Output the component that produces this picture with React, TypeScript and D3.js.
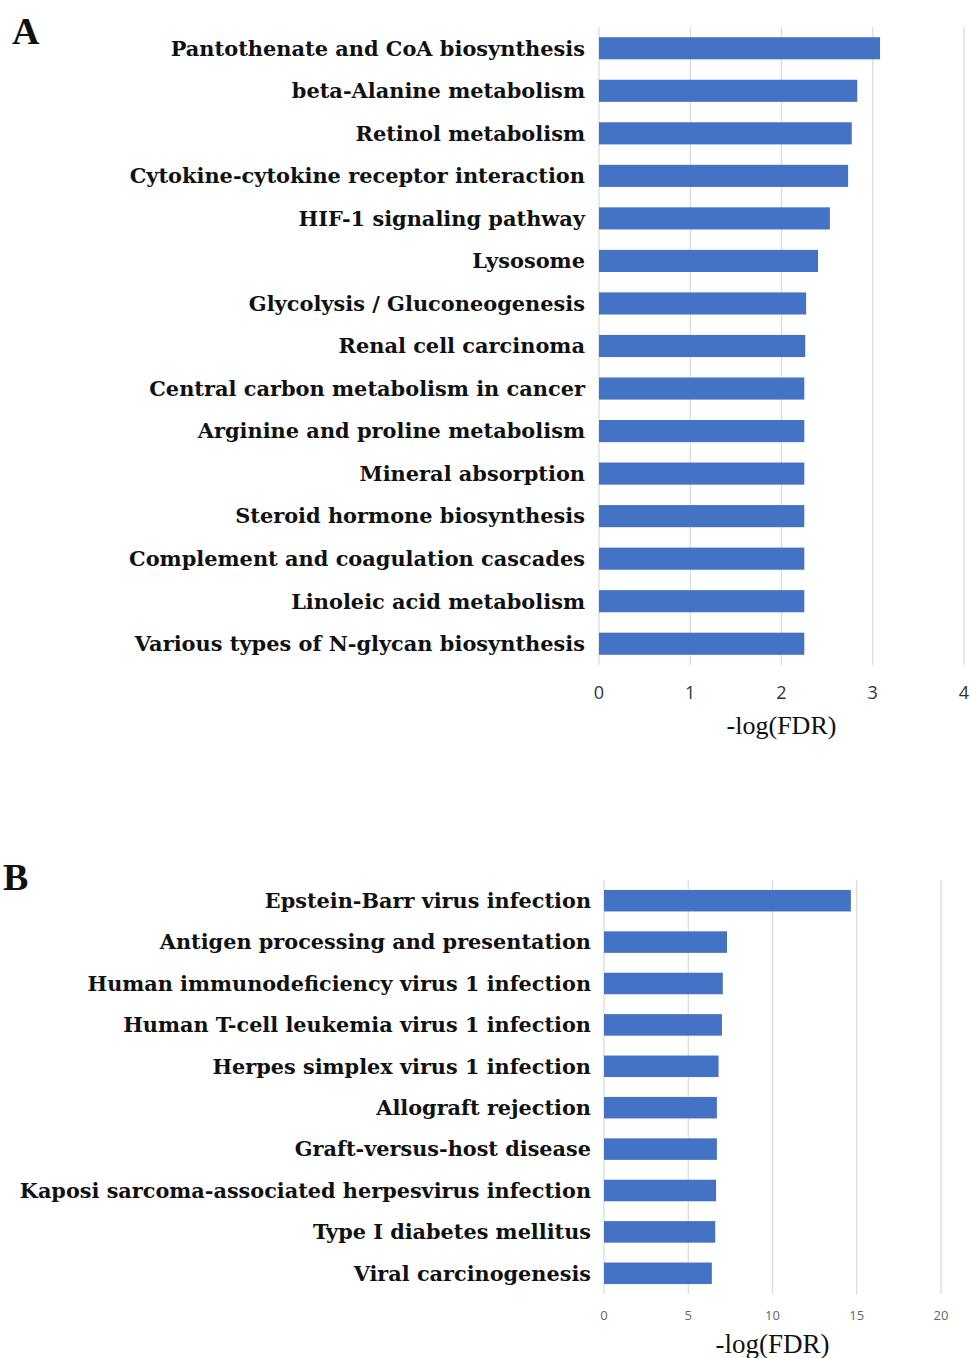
import React from "react";
import * as d3 from "d3";

const categoriesA = [
  "Pantothenate and CoA biosynthesis",
  "beta-Alanine metabolism",
  "Retinol metabolism",
  "Cytokine-cytokine receptor interaction",
  "HIF-1 signaling pathway",
  "Lysosome",
  "Glycolysis / Gluconeogenesis",
  "Renal cell carcinoma",
  "Central carbon metabolism in cancer",
  "Arginine and proline metabolism",
  "Mineral absorption",
  "Steroid hormone biosynthesis",
  "Complement and coagulation cascades",
  "Linoleic acid metabolism",
  "Various types of N-glycan biosynthesis",
];
const valuesA = [3.08, 2.83, 2.77, 2.73, 2.53, 2.4, 2.27, 2.26, 2.25, 2.25, 2.25, 2.25, 2.25, 2.25, 2.25];
const ticksA = [0, 1, 2, 3, 4];

const categoriesB = [
  "Epstein-Barr virus infection",
  "Antigen processing and presentation",
  "Human immunodeficiency virus 1 infection",
  "Human T-cell leukemia virus 1 infection",
  "Herpes simplex virus 1 infection",
  "Allograft rejection",
  "Graft-versus-host disease",
  "Kaposi sarcoma-associated herpesvirus infection",
  "Type I diabetes mellitus",
  "Viral carcinogenesis",
];
const valuesB = [14.65, 7.3, 7.05, 7.0, 6.8, 6.7, 6.7, 6.65, 6.6, 6.4];
const ticksB = [0, 5, 10, 15, 20];

const BAR = "#4472C4";
const GRID = "#d9d9d9";
const LABEL_FONT = "'DejaVu Serif', serif";
const TIMES = "'Liberation Serif', 'Times New Roman', serif";

function Panel(props: {
  cats: string[];
  vals: number[];
  ticks: number[];
  x0: number;
  x1: number;
  y0: number;
  y1: number;
  labelRight: number;
  labelSize: number;
  tickY: number;
  tickSize: number;
  tickColor: string;
  titleY: number;
  titleSize: number;
  pad: number;
}) {
  const { cats, vals, ticks } = props;
  const x = d3.scaleLinear().domain([ticks[0], ticks[ticks.length - 1]]).range([props.x0, props.x1]);
  const y = d3.scaleBand().domain(cats).range([props.y0, props.y1]).paddingInner(props.pad).paddingOuter(props.pad / 2);
  return (
    <g>
      {ticks.map((t) => (
        <line key={"g" + t} x1={x(t)} x2={x(t)} y1={props.y0} y2={props.y1} stroke={GRID} strokeWidth={1.2} />
      ))}
      {cats.map((c, i) => (
        <rect key={c} x={x(0)} y={y(c)!} width={x(vals[i]) - x(0)} height={y.bandwidth()} fill={BAR} />
      ))}
      {cats.map((c) => (
        <text
          key={"l" + c}
          x={props.labelRight}
          y={y(c)! + y.bandwidth() / 2}
          dy="0.35em"
          textAnchor="end"
          fontFamily={LABEL_FONT}
          fontWeight="bold"
          fontSize={props.labelSize}
          fill="#111"
        >
          {c}
        </text>
      ))}
      {ticks.map((t) => (
        <text
          key={"t" + t}
          x={x(t)}
          y={props.tickY}
          dy="0.35em"
          textAnchor="middle"
          fontFamily="'Open Sans', 'Noto Sans', sans-serif"
          fontSize={props.tickSize}
          fill={props.tickColor}
        >
          {t}
        </text>
      ))}
      <text
        x={x((ticks[0] + ticks[ticks.length - 1]) / 2)}
        y={props.titleY}
        dy="0.35em"
        textAnchor="middle"
        fontFamily={TIMES}
        fontSize={props.titleSize}
        fill="#111"
      >
        -log(FDR)
      </text>
    </g>
  );
}

export default function App() {
  return (
    <svg
      width={971}
      height={1358}
      style={{ display: "block", position: "absolute", left: 0, top: 0 }}
    >
      <rect x={0} y={0} width={971} height={1358} fill="#fff" />
      <text x={12} y={44} fontFamily={TIMES} fontWeight="bold" fontSize={38} fill="#111">A</text>
      <text x={3} y={890} fontFamily={TIMES} fontWeight="bold" fontSize={38} fill="#111">B</text>
      <Panel
        cats={categoriesA}
        vals={valuesA}
        ticks={ticksA}
        x0={599}
        x1={964}
        y0={27}
        y1={665}
        labelRight={585}
        labelSize={20.9}
        tickY={693}
        tickSize={18}
        tickColor="#333"
        titleY={725}
        titleSize={26}
        pad={0.48}
      />
      <Panel
        cats={categoriesB}
        vals={valuesB}
        ticks={ticksB}
        x0={604}
        x1={941}
        y0={880}
        y1={1294}
        labelRight={591}
        labelSize={20.8}
        tickY={1315}
        tickSize={13}
        tickColor="#666"
        titleY={1344}
        titleSize={27}
        pad={0.48}
      />
    </svg>
  );
}
